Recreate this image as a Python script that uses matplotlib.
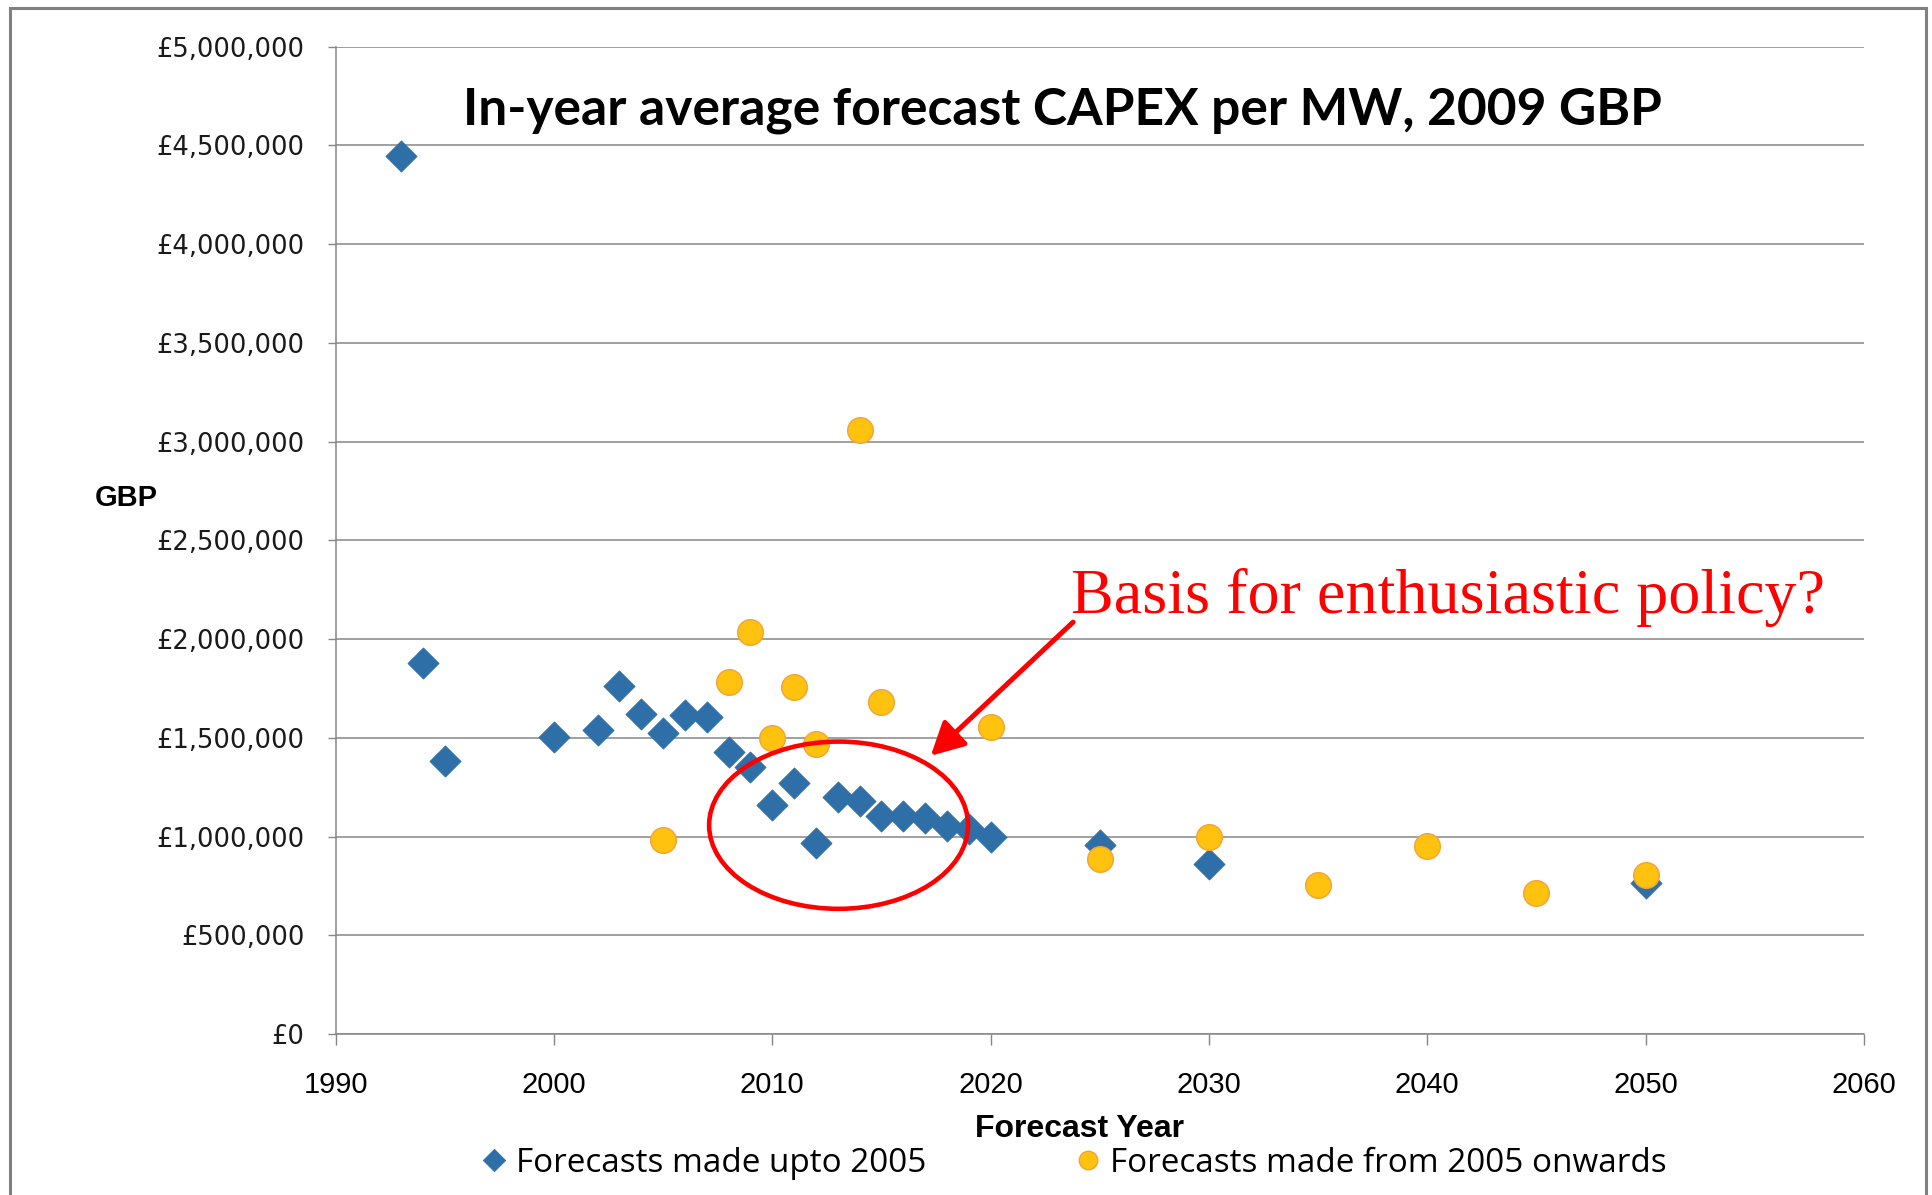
import matplotlib
matplotlib.use("Agg")
import matplotlib.pyplot as plt
from matplotlib.patches import Ellipse
from matplotlib.lines import Line2D
from matplotlib.path import Path
from matplotlib.ticker import FuncFormatter, MultipleLocator
import numpy as np

# ---------------- data ----------------
early_years = [1993, 1994, 1995, 2000, 2002, 2003, 2004, 2005, 2006, 2007, 2008,
               2009, 2010, 2011, 2012, 2013, 2014, 2015, 2016, 2017, 2018, 2019,
               2020, 2025, 2030, 2050]
early_capex = [4445000, 1877000, 1384000, 1503000, 1538000, 1762000, 1621000,
               1525000, 1618000, 1606000, 1428000, 1352000, 1162000, 1270000,
               966000, 1200000, 1180000, 1106000, 1106000, 1093000, 1052000,
               1040000, 998000, 955000, 862000, 765000]
late_years = [2005, 2008, 2009, 2010, 2011, 2012, 2014, 2015, 2020, 2025, 2030,
              2035, 2040, 2045, 2050]
late_capex = [984000, 1784000, 2034000, 1500000, 1759000, 1469000, 3060000,
              1680000, 1554000, 887000, 997000, 756000, 950000, 715000, 803000]

x_ticks = [1990, 2000, 2010, 2020, 2030, 2040, 2050, 2060]
y_ticks = [0, 500000, 1000000, 1500000, 2000000, 2500000, 3000000, 3500000,
           4000000, 4500000, 5000000]

title_text = "In-year average forecast CAPEX per MW, 2009 GBP"
xlabel_text = "Forecast Year"
ylabel_text = "GBP"
series_labels = ["Forecasts made upto 2005", "Forecasts made from 2005 onwards"]
note_text = "Basis for enthusiastic policy?"

# ---------------- figure ----------------
W, H = 1932, 1195
DPI = 100
fig = plt.figure(figsize=(W / DPI, H / DPI), dpi=DPI)
fig.patch.set_facecolor("white")

def fx(px):
    return px / W

def fy(py):
    return 1 - py / H

ax_l, ax_r, ax_t, ax_b = 335.5, 1864, 46.7, 1034
ax = fig.add_axes([fx(ax_l), fy(ax_b), fx(ax_r) - fx(ax_l), fy(ax_t) - fy(ax_b)])

blue = "#2E6FA8"
orange = "#FFC20E"
orange_edge = "#F2A33A"
grid_c = "#868686"

diamond = Path([(0, 1), (1, 0), (0, -1), (-1, 0), (0, 1)],
               [Path.MOVETO, Path.LINETO, Path.LINETO, Path.LINETO, Path.CLOSEPOLY])

ax.plot(early_years, early_capex, linestyle="none", marker=diamond, ms=22.5,
        mfc=blue, mec=blue, mew=0.5, zorder=3, label=series_labels[0])
ax.plot(late_years, late_capex, linestyle="none", marker="o", ms=18.5,
        mfc=orange, mec=orange_edge, mew=1.0, zorder=4, label=series_labels[1])

ax.set_xlim(x_ticks[0], x_ticks[-1])
ax.set_ylim(y_ticks[0], y_ticks[-1])
ax.set_xticks(x_ticks)
ax.set_yticks(y_ticks)
ax.yaxis.set_major_formatter(FuncFormatter(lambda v, p: "£{:,.0f}".format(v)))

ax.grid(axis="y", color=grid_c, lw=1.1, zorder=0)
ax.set_axisbelow(True)
for s in ["top", "right"]:
    ax.spines[s].set_visible(False)
for s in ["left", "bottom"]:
    ax.spines[s].set_color(grid_c)
    ax.spines[s].set_linewidth(1.1)

ax.tick_params(axis="x", direction="out", length=7.9, width=1.0, color=grid_c,
               pad=18.5, labelsize=21, labelcolor="black")
ax.tick_params(axis="y", direction="out", length=5.8, width=1.0, color=grid_c,
               pad=16.5, labelsize=18.6, labelcolor="#1a1a1a")
for lab in ax.get_xticklabels():
    lab.set_fontfamily("Liberation Sans")
for lab in ax.get_yticklabels():
    lab.set_fontfamily("DejaVu Sans")

fig.canvas.draw()
renderer = fig.canvas.get_renderer()

def fit_width(t, target_px):
    fig.canvas.draw()
    w = t.get_window_extent(renderer).width
    t.set_fontsize(t.get_fontsize() * target_px / w)

# title
t_title = fig.text(fx(1062), fy(125), title_text, ha="center", va="baseline",
                   fontsize=30, fontweight="bold", family=["Lato", "Liberation Sans"])
fit_width(t_title, 1198)

# axis labels
t_xl = fig.text(fx(1079.5), fy(1137), xlabel_text, ha="center", va="baseline",
                fontsize=20, fontweight="bold", family="Liberation Sans")
fit_width(t_xl, 209)
t_yl = fig.text(fx(126.5), fy(498), ylabel_text, ha="center", va="center",
                fontsize=20, fontweight="bold", family="Liberation Sans")
fit_width(t_yl, 63)

# annotation (in data coordinates)
note_x, note_y = 2023.67, 2130000
t_note = ax.text(note_x, note_y, note_text, ha="left", va="baseline",
                 color="red", fontsize=40, family="Liberation Serif", zorder=6)
fit_width(t_note, 751)

ax.annotate("", xy=(2017.26, 1409000), xytext=(2023.78, 2086000),
            arrowprops=dict(arrowstyle="-|>,head_length=0.4,head_width=0.21",
                            color="red", lw=3.6, mutation_scale=50,
                            shrinkA=0, shrinkB=0), zorder=6)
ax.add_patch(Ellipse((2013.04, 1057400), width=11.86, height=847000,
                     fill=False, edgecolor="red", lw=3.3, zorder=5))

# legend
leg_family = ["Open Sans", "Liberation Sans"]
tmp = fig.text(0, 0, series_labels[0], fontsize=20, family=leg_family)
fig.canvas.draw()
w1 = tmp.get_window_extent(renderer).width
tmp.remove()
leg_fs = 20 * 409 / w1
fs_px = leg_fs * DPI / 72
handles, labels = ax.get_legend_handles_labels()
hl = 0.8
leg = fig.legend(handles, labels, ncol=2, frameon=False, loc="center left",
                 bbox_to_anchor=(fx(494 - hl * fs_px / 2), fy(1163)),
                 borderpad=0, borderaxespad=0, handlelength=hl,
                 handletextpad=(22 - hl * fs_px / 2) / fs_px,
                 columnspacing=(1087 - hl * fs_px / 2 - 925) / fs_px,
                 prop={"family": leg_family, "size": leg_fs},
                 markerscale=0.72)

# outer chart frame (left, top, right)
fc = "#808080"
fig.add_artist(Line2D([fx(10), fx(10)], [fy(8), 0], transform=fig.transFigure, color=fc, lw=2.2))
fig.add_artist(Line2D([fx(10), fx(1926)], [fy(8), fy(8)], transform=fig.transFigure, color=fc, lw=2.2))
fig.add_artist(Line2D([fx(1926), fx(1926)], [fy(8), 0], transform=fig.transFigure, color=fc, lw=2.2))

fig.savefig("out.png", dpi=DPI)
